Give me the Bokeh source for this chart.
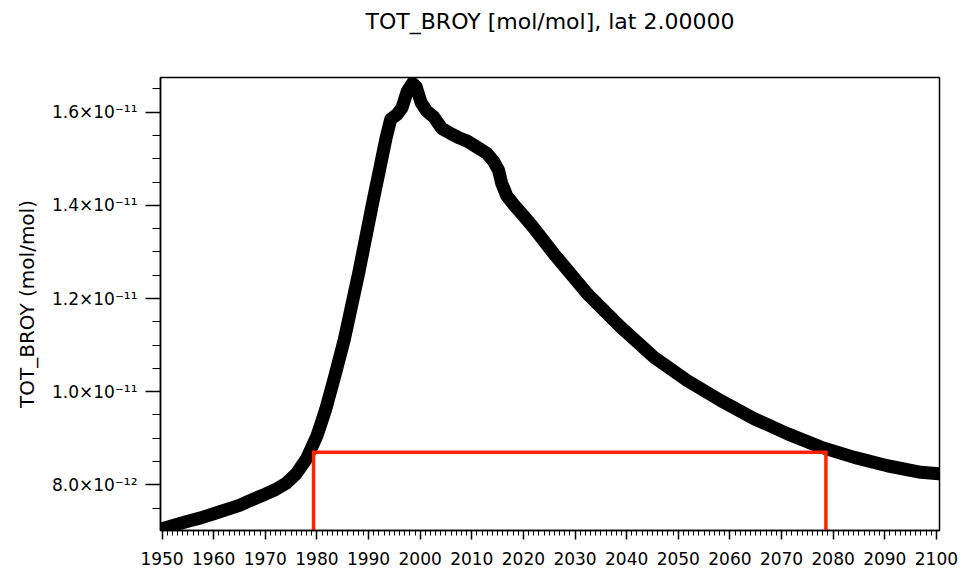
from bokeh.plotting import figure
from bokeh.models import FixedTicker, Range1d, Title
from bokeh.embed import file_html
from bokeh.resources import INLINE

# ---- data (values in units of 1e-12 mol/mol) ----
years = [1950, 1955, 1957.5, 1960, 1965, 1967, 1970, 1972, 1974, 1976,
         1978, 1980, 1981.7, 1983.5, 1985.3, 1988.1, 1990.7, 1993.4, 1994.3,
         1995.5, 1996.5, 1997.5, 1998.5, 1999.2, 2000.2, 2001.3, 2002.6,
         2004.2, 2005.8, 2007.5, 2009.1, 2011.0, 2012.9, 2014.2, 2015.2,
         2015.8, 2016.8, 2018.1, 2020.0, 2021.9, 2025.9, 2032.4, 2038.8,
         2045.3, 2051.7, 2058.2, 2064.7, 2071.1, 2077.6, 2084.1, 2090.5,
         2097.0, 2100.5]
tot_broy_e12 = [7.06, 7.22, 7.29, 7.38, 7.56, 7.66, 7.80, 7.90, 8.03, 8.24,
                8.56, 9.05, 9.62, 10.35, 11.12, 12.55, 14.00, 15.45, 15.85,
                15.95, 16.10, 16.45, 16.62, 16.55, 16.20, 16.02, 15.90,
                15.65, 15.55, 15.45, 15.38, 15.25, 15.12, 14.95, 14.75,
                14.47, 14.20, 14.02, 13.78, 13.53, 12.96, 12.10, 11.39,
                10.74, 10.24, 9.81, 9.42, 9.10, 8.81, 8.59, 8.41,
                8.27, 8.24]

x_major = list(range(1950, 2101, 10))
x_minor = list(range(1950, 2101, 1))
y_major = [8, 10, 12, 14, 16]
y_labels = ["8.0×10⁻¹²", "1.0×10⁻¹¹", "1.2×10⁻¹¹", "1.4×10⁻¹¹", "1.6×10⁻¹¹"]
y_minor = [7.5 + 0.5 * i for i in range(19)]

box_years = [1979.35, 2078.6]
box_level = 8.70

title_text = "TOT_BROY [mol/mol], lat 2.00000"
y_title = "TOT_BROY (mol/mol)"

x_lo, x_hi = 1949.7, 2100.6
y_lo, y_hi = 7.02, 16.745

FONT = "DejaVu Sans"

p = figure(width=973, height=571, output_backend="svg", toolbar_location=None,
           x_range=Range1d(x_lo, x_hi), y_range=Range1d(y_lo, y_hi),
           min_border_left=160, min_border_right=34, min_border_top=77,
           min_border_bottom=41, title=title_text)
p.background_fill_color = "white"
p.border_fill_color = "white"
p.grid.visible = False
p.outline_line_color = "black"
p.outline_line_width = 1.5

p.title.align = "center"
p.title.text_font = FONT
p.title.text_font_size = "22px"
p.title.text_font_style = "normal"
p.title.text_color = "#000000"
p.title.standoff = 0

# empty spacer between the title and the frame
p.add_layout(Title(text=" ", text_font=FONT, text_font_size="22px", standoff=17), "above")

# curve
p.line(years, tot_broy_e12, line_color="black", line_width=13,
       line_join="round", line_cap="round")

# red box
p.line([box_years[0], box_years[0], box_years[1], box_years[1]],
       [y_lo - 1, box_level, box_level, y_lo - 1],
       line_color="#ff2200", line_width=3.5, line_join="miter")

# axes
p.xaxis.ticker = FixedTicker(ticks=x_major, minor_ticks=x_minor)
p.yaxis.ticker = FixedTicker(ticks=y_major, minor_ticks=y_minor)
p.yaxis.major_label_overrides = {k: v for k, v in zip(y_major, y_labels)}

for ax in (p.xaxis[0], p.yaxis[0]):
    ax.axis_line_color = "black"
    ax.axis_line_width = 1.5
    ax.major_tick_line_color = "black"
    ax.minor_tick_line_color = "black"
    ax.major_tick_line_width = 1.5
    ax.minor_tick_line_width = 1
    ax.major_tick_in = 0
    ax.minor_tick_in = 0
    ax.major_label_text_font = FONT
    ax.major_label_text_font_size = "17px"
    ax.major_label_text_color = "#000000"

p.xaxis.major_tick_out = 9
p.xaxis.minor_tick_out = 5
p.xaxis.major_label_standoff = 12

p.yaxis.major_tick_out = 15
p.yaxis.minor_tick_out = 8
p.yaxis.major_label_standoff = 8
p.yaxis.axis_label = y_title
p.yaxis.axis_label_text_font = FONT
p.yaxis.axis_label_text_font_size = "20px"
p.yaxis.axis_label_text_font_style = "normal"
p.yaxis.axis_label_text_color = "#000000"
p.yaxis.axis_label_standoff = 10

open("out.html", "w").write(file_html(p, INLINE))
